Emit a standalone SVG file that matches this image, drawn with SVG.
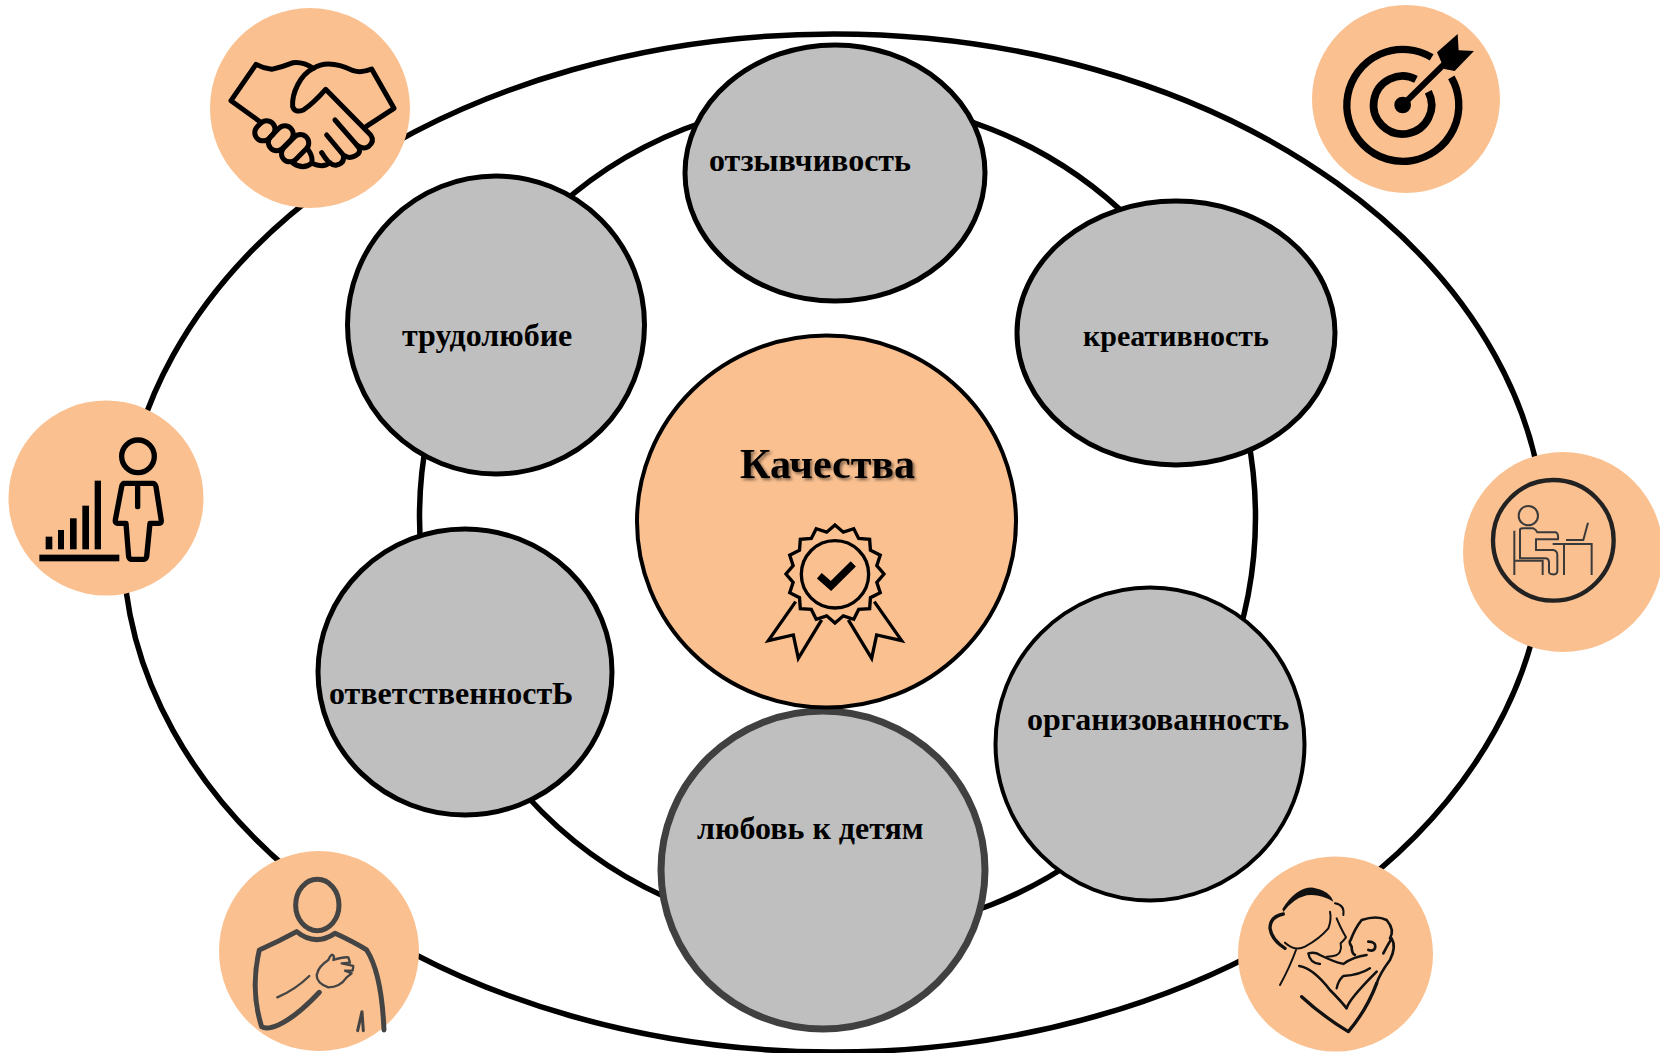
<svg xmlns="http://www.w3.org/2000/svg" width="1660" height="1053" viewBox="0 0 1660 1053">
<style>
.ring{fill:none;stroke:#000;stroke-width:5.500}
.node{fill:#BFBFBF;stroke:#000;stroke-width:5}
.thin{stroke-width:4}
.peach{fill:#FAC090}
.t{font-family:"Liberation Serif","Times New Roman",serif;font-weight:bold;font-size:32px;fill:#000}
.ic{fill:none;stroke:#000;stroke-linecap:round;stroke-linejoin:round}
</style>
<defs>
<filter id="sh" x="-10%" y="-20%" width="125%" height="150%"><feDropShadow dx="2" dy="2" stdDeviation="1.5" flood-color="#000" flood-opacity="0.5"/></filter>
</defs>
<g id="connectors">
<ellipse class="ring" cx="834" cy="543" rx="711" ry="509"/>
<ellipse class="ring" cx="837.500" cy="517" rx="418" ry="417"/>
</g>
<g id="node-otzyv"><ellipse class="node" cx="835" cy="173" rx="150" ry="128"/><text class="t" x="709" y="171">отзывчивость</text></g>
<g id="node-trud"><ellipse class="node" cx="496" cy="325" rx="148.500" ry="149"/><text class="t" x="402" y="346">трудолюбие</text></g>
<g id="node-kreat"><ellipse class="node" cx="1176" cy="333" rx="159" ry="132"/><text class="t" x="1083" y="346" style="font-size:30px">креативность</text></g>
<g id="node-otvet"><ellipse class="node" cx="465" cy="672" rx="147" ry="143"/><text class="t" x="329" y="704">ответственностЬ</text></g>
<g id="node-org"><ellipse class="node thin" cx="1150" cy="744" rx="154.500" ry="156.500"/><text class="t" x="1027" y="730">организованность</text></g>
<g id="node-love"><ellipse cx="823" cy="870" rx="162" ry="159" fill="#BFBFBF" stroke="#404040" stroke-width="7"/><text class="t" x="697" y="839">любовь к детям</text></g>
<g id="node-center">
<ellipse class="node thin" cx="826.500" cy="521.500" rx="189.500" ry="186" style="fill:#FAC090"/>
<text x="740" y="478" font-family="Liberation Serif, serif" font-weight="bold" font-size="42" filter="url(#sh)">Качества</text>
<g transform="translate(630 330) scale(.3333)" fill="none" stroke="#000" stroke-width="10">
<polygon points="615,585 640,606.500 671.300,596.200 686.100,625.600 719,628 721.400,660.900 750.800,675.700 740.500,707 762,732 740.500,757 750.800,788.300 721.400,803.100 719,836 686.100,838.400 671.300,867.800 640,857.500 615,879 590,857.500 558.700,867.800 543.900,838.400 511,836 508.600,803.100 479.200,788.300 489.500,757 468,732 489.500,707 479.200,675.700 508.600,660.900 511,628 543.900,625.600 558.700,596.200 590,606.500"/>
<circle cx="615" cy="733" r="101"/>
<path d="M568 737L603 768L670 702" stroke-width="22"/>
<path d="M497 815L415 932L490 915L505 985L575 870M733 815L815 932L740 915L725 985L655 870"/>
</g>
</g>
<g id="icon-handshake"><circle class="peach" cx="310" cy="108" r="100"/>
<g class="ic" transform="translate(180 0) scale(.3333)" stroke-width="15">
<path d="M240 365L153 302L228 193Q250 205 275 208Q310 200 340 188Q370 185 400 205C430 185 470 188 520 212Q545 220 575 207L642 325L558 380"/>
<path d="M400 205C360 225 335 280 338 320Q345 340 370 330Q400 310 437 268L572 405Q585 425 565 440Q550 450 530 435L465 360"/>
<path d="M530 435Q550 455 525 468Q505 478 490 465L440 405M490 465Q495 490 470 495Q450 500 425 458M450 488Q430 505 395 490"/>
<rect x="222" y="367" width="65" height="50" rx="25" transform="rotate(-45 255 392)"/>
<rect x="260" y="390" width="85" height="50" rx="25" transform="rotate(-45 302 415)"/>
<rect x="298" y="420" width="95" height="50" rx="25" transform="rotate(-45 345 445)"/>
<path d="M385 450Q400 470 395 490Q370 510 340 490"/>
</g></g>
<g id="icon-target"><circle class="peach" cx="1406" cy="99" r="94"/>
<g transform="translate(1290 0) scale(.3333)">
<path d="M425 172A168 168 0 1 0 484 232" fill="none" stroke="#000" stroke-width="22"/>
<path d="M378 238A87 87 0 1 0 415 275" fill="none" stroke="#000" stroke-width="23"/>
<circle cx="338" cy="315" r="25"/>
<path d="M338 315L470 185" stroke="#000" stroke-width="18"/>
<polygon points="441,157 503,102 506,151 552,153 494,213 463,207"/>
</g></g>
<g id="icon-career"><circle class="peach" cx="106" cy="498" r="97.500"/>
<g transform="translate(0 390) scale(.3333)">
<circle class="ic" cx="414" cy="199" r="49" stroke-width="16"/>
<path class="ic" stroke-width="16" d="M372 280H458Q465 280 468 290L484 392Q484 400 475 400H450L440 500Q438 508 430 508H395Q388 508 386 500L378 400H352Q345 400 346 390L365 290Q367 282 372 280Z"/>
<path class="ic" stroke-width="16" d="M413 290V350"/>
<rect x="137" y="440" width="20" height="38"/><rect x="174" y="420" width="18" height="58"/><rect x="210" y="385" width="20" height="93"/><rect x="247" y="347" width="20" height="131"/><rect x="284" y="272" width="19" height="206"/><rect x="118" y="494" width="240" height="20"/>
</g></g>
<g id="icon-desk"><circle class="peach" cx="1563" cy="552" r="100"/>
<g transform="translate(1450 440) scale(.3333)" fill="none" stroke="#3a3a3a" stroke-width="6">
<circle cx="310" cy="301" r="181" stroke="#222" stroke-width="13"/>
<circle cx="235" cy="227" r="29"/>
<path d="M193 272V405M193 362H278V405M210 268Q212 265 220 265H250Q258 268 262 277H318Q326 280 324 298H258V330H310Q322 332 322 345V395Q320 405 308 403Q296 403 297 392V365Q296 355 285 355H210ZM308 312H425V405M342 312V405M348 300H400L414 248"/>
</g></g>
<g id="icon-heart"><circle class="peach" cx="319" cy="951" r="100"/>
<g transform="translate(200 840) scale(.3333)" fill="none" stroke="#444" stroke-width="15" stroke-linecap="round" stroke-linejoin="round">
<ellipse cx="352" cy="195" rx="65" ry="77"/>
<path d="M552 570Q545 400 500 330Q460 305 405 280Q345 320 290 275Q235 305 178 330Q150 450 185 560Q200 570 235 555Q290 530 358 457"/>
<path stroke-width="7" d="M232 472Q285 450 328 408M352 400Q355 380 385 360Q395 335 402 350L400 360Q430 350 445 352L450 368L425 370L460 378L458 392L435 392L455 400L440 412Q420 442 385 442Q350 430 350 405Z"/>
<path stroke-width="9" d="M473 572L486 515L490 572"/>
</g></g>
<g id="icon-mother"><circle class="peach" cx="1335.500" cy="954" r="97.500"/>
<g transform="translate(1220 840) scale(.3333)" fill="none" stroke="#111" stroke-width="6" stroke-linecap="round" stroke-linejoin="round">
<path fill="#111" stroke="none" d="M187 207Q230 140 280 143Q330 152 340 185Q300 160 260 166Q220 176 190 216Z"/>
<path stroke-width="10" d="M190 222Q150 230 150 265Q155 300 195 325"/>
<path d="M195 308Q225 335 255 320Q300 295 325 265Q335 240 330 215M345 190Q375 195 370 225M350 235Q360 260 378 292Q372 300 362 310Q365 325 360 335Q355 350 320 350M228 330Q210 380 180 435"/>
<path stroke-width="8" d="M392 300Q405 265 425 240Q470 225 500 240Q525 270 510 295M392 300Q385 305 395 320Q395 340 405 345M445 305Q470 305 465 325Q460 335 445 330"/>
<path stroke-width="7" d="M265 340Q285 335 300 345Q340 365 370 372Q400 350 440 345M265 340Q270 370 300 372M350 445Q355 420 370 408Q420 405 450 385"/>
<path stroke-width="8" d="M238 378Q280 385 330 450Q360 480 380 505Q385 480 470 395M490 340Q500 320 515 295Q530 320 510 360Q480 400 470 430"/>
<path stroke-width="10" d="M245 470Q310 530 385 575Q440 510 470 430"/>
</g></g>
</svg>
